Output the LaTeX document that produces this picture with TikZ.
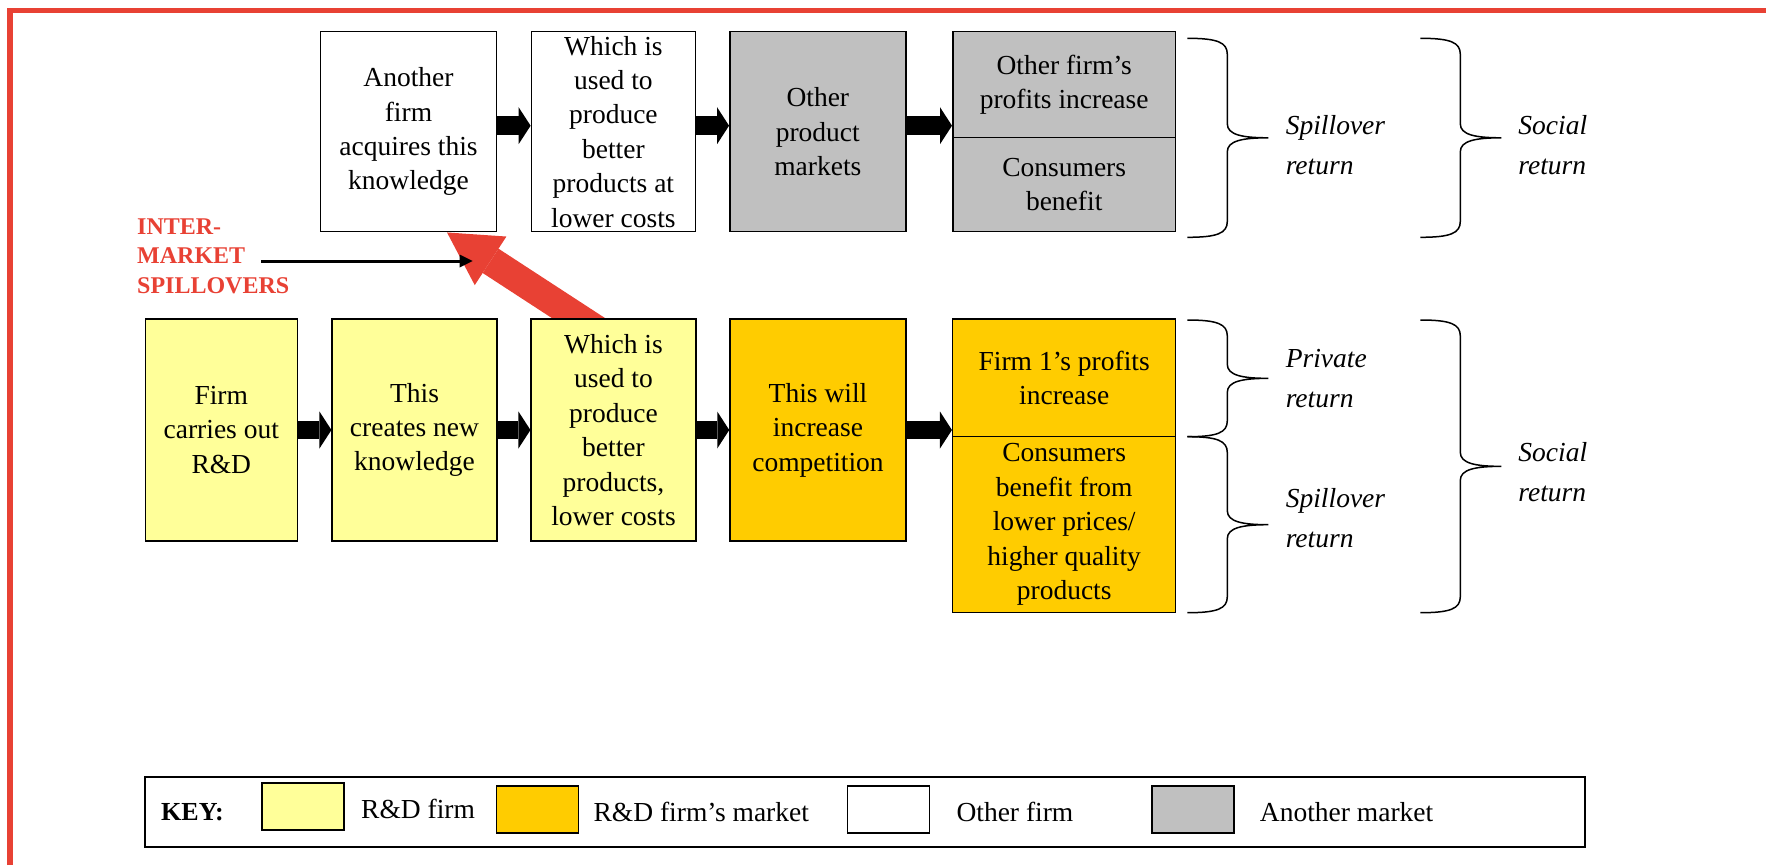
\documentclass[tikz,border=0pt]{standalone}
\usepackage{fontspec}
\setmainfont{Liberation Serif}
\usetikzlibrary{arrows.meta,calc}
\pgfdeclarelayer{background}
\pgfsetlayers{background,main}

\definecolor{rdfirm}{RGB}{255,255,153}
\definecolor{rdmarket}{RGB}{255,204,0}
\definecolor{othermkt}{RGB}{192,192,192}
\definecolor{framered}{RGB}{232,65,52}

% curly brace opening to the right: x of the open ends, top y, bottom y
\newcommand\sidebrace[3]{%
  \pgfmathsetmacro\bmid{(#2+#3)/2}%
  \draw[bracestroke] (#1,#2) .. controls ({#1+30},#2) and ({#1+40},{#2+4}) .. ({#1+40},{#2+16})
    -- ({#1+40},{\bmid-14}) .. controls ({#1+40},{\bmid-3}) and ({#1+55},\bmid) .. ({#1+81},\bmid)
    .. controls ({#1+55},\bmid) and ({#1+40},{\bmid+3}) .. ({#1+40},{\bmid+14})
    -- ({#1+40},{#3-16}) .. controls ({#1+40},{#3-4}) and ({#1+30},#3) .. (#1,#3);}

\tikzset{
  stagebox/.style={draw=black, line width=1.5pt, inner sep=0pt, align=center,
    font=\fontsize{27.5}{34.4}\selectfont},
  firmbox/.style={stagebox, fill=rdfirm},
  mktbox/.style={stagebox, fill=rdmarket},
  otherbox/.style={stagebox, fill=white},
  anotherbox/.style={stagebox, fill=othermkt},
  flowarrow/.style={line width=18.5pt, -{Triangle[length=12pt,width=37pt,line width=0pt]}},
  spillarrow/.style={framered, line width=29pt, -{Triangle[length=52pt,width=58pt,line width=0pt]}},
  pointarrow/.style={line width=3pt, -{Triangle[length=13pt,width=13pt,line width=0pt]}},
  bracestroke/.style={line width=1.5pt},
  retlabel/.style={anchor=west, inner sep=0pt, align=left,
    font=\fontsize{27.5}{40}\selectfont\itshape},
  keytext/.style={anchor=base west, inner sep=0pt, font=\fontsize{27.5}{33}\selectfont},
  swatch/.style={draw=black, line width=1.5pt, inner sep=0pt,
    minimum width=82pt, minimum height=47pt},
}

\begin{document}
\begin{tikzpicture}[x=1pt, y=-1pt]
\useasboundingbox (0,0) rectangle (1766,865);

% frame
\draw[framered, line width=5.5pt] (9.8,865) -- (9.8,10.3) -- (1766,10.3);

% other firm / other market chain
\node[otherbox, minimum width=176.4pt, minimum height=200pt] (T1) at (408.5,131.7)
  {Another\\firm\\acquires this\\knowledge};
\node[otherbox, minimum width=164.1pt, minimum height=200pt] (T2) at (613.4,131.7)
  {Which is\\used to\\produce\\better\\products at\\lower costs};
\node[anotherbox, minimum width=176pt, minimum height=200pt] (T3) at (817.8,131.7)
  {Other\\product\\markets};
\node[anotherbox, minimum width=222.9pt, minimum height=106pt] (T4a) at (1064.2,84.7)
  {Other firm's\\profits increase};
\node[anotherbox, minimum width=222.9pt, minimum height=94pt] (T4b) at (1064.2,184.7)
  {Consumers\\benefit};

% R&D firm chain
\node[firmbox, minimum width=152pt, minimum height=222pt] (L1) at (221.3,430)
  {Firm\\carries out\\R\&D};
\node[firmbox, minimum width=164.6pt, minimum height=222pt] (L2) at (414.5,430)
  {This\\creates new\\knowledge};
\node[firmbox, minimum width=164.6pt, minimum height=222pt] (L3) at (613.5,430)
  {Which is\\used to\\produce\\better\\products,\\lower costs};
\node[mktbox, minimum width=176pt, minimum height=222pt] (L4) at (818,430)
  {This will\\increase\\competition};
\node[mktbox, minimum width=223pt, minimum height=117.7pt] (L5a) at (1064.2,377.85)
  {Firm 1's profits\\increase};
\node[mktbox, minimum width=223pt, minimum height=175.6pt] (L5b) at (1064.2,524.5)
  {Consumers\\benefit from\\lower prices/\\higher quality\\products};

% knowledge leaking to the other firm
\coordinate (spillfrom) at ($(L3.north)+(-2.5,21)$);
\coordinate (spillto) at ($(T1.south)+(38.5,0)$);
\begin{pgfonlayer}{background}
  \draw[spillarrow] (spillfrom) -- (spillto);
\end{pgfonlayer}

% flow arrows
\coordinate (u1) at ([yshift=6pt]T1.east);
\coordinate (u2) at ([yshift=6pt]T2.east);
\coordinate (u3) at ([yshift=6pt]T3.east);
\draw[flowarrow] (u1) -- (u1 -| T2.west);
\draw[flowarrow] (u2) -- (u2 -| T3.west);
\draw[flowarrow] (u3) -- (u3 -| T4a.west);
\draw[flowarrow] (L1.east) -- (L2.west);
\draw[flowarrow] (L2.east) -- (L3.west);
\draw[flowarrow] (L3.east) -- (L4.west);
\draw[flowarrow] (L4.east) -- (L4.east -| L5a.west);

% inter-market label
\node[anchor=west, inner sep=0pt, align=left, text=framered,
  font=\fontsize{24}{29.5}\selectfont\bfseries] (IM) at (137,256.3)
  {INTER-\\MARKET\\SPILLOVERS};
\coordinate (ptrfrom) at (261.4,261);
\coordinate (ptrto) at (472.6,261);
\draw[pointarrow] (ptrfrom) -- (ptrto);

% returns
\sidebrace{1187.3}{38.3}{237.3}
\sidebrace{1420.3}{38.3}{237.3}
\sidebrace{1187.3}{320}{436.7}
\sidebrace{1187.3}{436.7}{612.7}
\sidebrace{1420.3}{320}{612.7}
\node[retlabel] (rs1) at (1285.6,145.5) {Spillover\\return};
\node[retlabel] (rso1) at (1518.2,145.5) {Social\\return};
\node[retlabel] (rp) at (1285.6,378.8) {Private\\return};
\node[retlabel] (rs2) at (1285.6,518.5) {Spillover\\return};
\node[retlabel] (rso2) at (1518.2,472) {Social\\return};

% key
\node[draw=black, line width=1.8pt, inner sep=0pt, minimum width=1439.6pt,
  minimum height=70.6pt] (key) at (864.8,812) {};
\node[keytext, font=\fontsize{26}{30}\selectfont\bfseries] (keyhead) at (161,820) {KEY:};
\node[swatch, fill=rdfirm] (k1) at (303,806.5) {};
\node[keytext] (k1t) at (361,818) {R\&D firm};
\node[swatch, fill=rdmarket] (k2) at (537.3,809.3) {};
\node[keytext] (k2t) at (593.4,821) {R\&D firm's market};
\node[swatch, fill=white] (k3) at (888.5,809.3) {};
\node[keytext] (k3t) at (956.3,821) {Other firm};
\node[swatch, fill=othermkt] (k4) at (1193,809.3) {};
\node[keytext] (k4t) at (1259.7,821) {Another market};
\end{tikzpicture}
\end{document}
